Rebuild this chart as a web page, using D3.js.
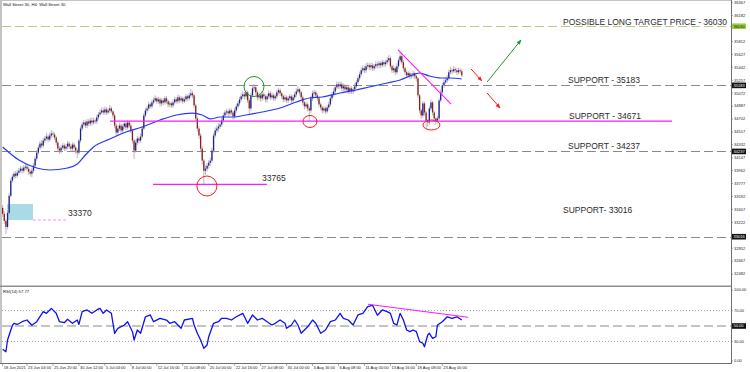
<!DOCTYPE html>
<html><head><meta charset="utf-8">
<script src="https://cdn.jsdelivr.net/npm/d3@7"></script>
<style>html,body{margin:0;padding:0;background:#fff;overflow:hidden}</style>
</head><body><svg id="c" width="750" height="372"></svg>
<script>
// ---------- DATA ----------
const opens=[33429,33343,33242,33156,33357,33602,33818,33875,33918,33889,
33933,33961,33990,33961,34005,34019,33990,33947,33918,33961,
34033,34134,34220,34292,34350,34321,34393,34422,34450,34407,
34465,34493,34479,34436,34364,34278,34249,34292,34321,34278,
34307,34350,34307,34278,34335,34292,34249,34220,34393,34565,
34623,34652,34608,34666,34637,34680,34652,34680,34666,34724,
34767,34795,34824,34795,34839,34795,34824,34853,34810,34752,
34608,34508,34565,34608,34537,34594,34637,34580,34652,34608,
34537,34393,34249,34364,34422,34393,34450,34565,34752,34824,
34853,34910,34882,34939,34968,34997,34954,34982,34925,34968,
34939,34997,34954,34910,34925,34896,34939,34982,34954,35011,
34968,34997,34954,34982,35026,34997,35040,35069,35040,34896,
34709,34565,34465,34278,34105,33961,33990,34033,34076,34105,
34249,34465,34537,34565,34594,34623,34680,34752,34795,34810,
34781,34824,34795,34738,34824,34882,34925,34982,35026,35054,
35026,35083,34968,34853,35040,35141,35155,35083,35011,35040,
34997,35054,35026,34982,35026,35069,35011,35040,34997,35026,
35083,35112,35069,35026,34982,35011,34968,34997,35026,34968,
35011,35054,35097,35126,35083,35011,34939,34882,34910,34853,
34824,34997,35069,35083,35040,34997,34910,34867,34824,34853,
34810,34867,34910,34997,35054,35097,35155,35198,35169,35198,
35141,35169,35126,35155,35097,35141,35097,35126,35169,35227,
35284,35342,35399,35428,35399,35457,35471,35443,35471,35428,
35457,35486,35471,35500,35471,35514,35486,35514,35543,35572,
35457,35399,35428,35371,35457,35543,35601,35514,35428,35371,
35327,35356,35313,35327,35356,35313,35284,35040,34824,34752,
34925,34795,34680,34652,34853,34939,34795,34709,34680,34709,
34968,35083,35184,35227,35256,35284,35371,35399,35385,35414,
35399,35371,35399,35385];
const highs=[33470,33380,33270,33390,33640,33850,33910,33950,33960,33970,
34000,34030,34020,34040,34060,34050,34020,33980,34000,34070,
34170,34260,34330,34390,34400,34430,34460,34500,34480,34510,
34540,34530,34510,34460,34390,34310,34330,34360,34350,34340,
34390,34380,34340,34370,34360,34320,34280,34420,34600,34660,
34690,34680,34700,34700,34720,34720,34720,34710,34760,34800,
34840,34870,34860,34880,34870,34860,34900,34880,34830,34780,
34640,34610,34650,34640,34630,34680,34670,34690,34680,34640,
34560,34420,34400,34460,34450,34490,34600,34790,34860,34890,
34950,34940,34980,35010,35040,35020,35020,35010,35000,35000,
35030,35030,34980,34960,34950,34980,35020,35010,35050,35040,
35030,35020,35020,35060,35050,35080,35130,35100,35060,34920,
34740,34600,34500,34310,34130,34040,34070,34110,34150,34290,
34500,34580,34610,34640,34670,34720,34790,34830,34850,34840,
34860,34850,34820,34860,34920,34960,35020,35070,35100,35090,
35120,35110,35000,35080,35180,35200,35180,35110,35080,35070,
35100,35090,35050,35060,35110,35100,35080,35070,35060,35120,
35150,35140,35090,35050,35050,35040,35030,35060,35050,35050,
35090,35140,35170,35150,35100,35040,34960,34950,34940,34880,
35030,35110,35120,35110,35070,35020,34940,34890,34890,34880,
34900,34950,35040,35090,35140,35190,35240,35230,35240,35230,
35210,35200,35190,35180,35180,35170,35160,35210,35260,35320,
35380,35440,35470,35460,35500,35510,35500,35510,35500,35490,
35530,35520,35540,35530,35550,35540,35550,35590,35620,35600,
35480,35470,35450,35500,35580,35660,35630,35540,35450,35400,
35390,35380,35360,35390,35380,35340,35300,35060,34850,34960,
34950,34820,34700,34890,34980,34960,34820,34730,34750,35000,
35120,35220,35270,35300,35330,35410,35450,35430,35460,35440,
35430,35440,35430,35420];
const lows=[33300,33200,33055,33120,33330,33580,33790,33840,33850,33860,
33900,33930,33920,33930,33970,33950,33900,33880,33870,33930,
34000,34100,34190,34260,34280,34290,34360,34390,34370,34380,
34430,34440,34400,34320,34230,34200,34210,34260,34240,34240,
34270,34270,34230,34240,34250,34200,34140,34190,34360,34530,
34590,34570,34570,34600,34600,34610,34620,34630,34630,34690,
34740,34770,34760,34760,34760,34770,34790,34780,34710,34570,
34460,34470,34530,34490,34500,34560,34540,34550,34570,34500,
34350,34130,34220,34330,34350,34360,34420,34540,34720,34790,
34820,34850,34850,34910,34940,34920,34920,34880,34890,34900,
34910,34920,34870,34870,34860,34860,34910,34920,34920,34930,
34940,34920,34930,34950,34960,34970,35010,35000,34860,34670,
34520,34420,34230,34050,33750,33900,33950,33990,34030,34070,
34220,34430,34500,34520,34560,34590,34650,34720,34760,34740,
34750,34760,34690,34700,34790,34850,34890,34950,34990,34980,
34990,34930,34760,34820,35010,35100,35040,34970,34970,34950,
34960,34980,34940,34940,34990,34970,34980,34960,34960,34990,
35050,35030,34990,34940,34950,34930,34930,34960,34930,34940,
34980,35020,35070,35040,34970,34900,34840,34850,34810,34660,
34790,34960,35040,35000,34960,34870,34830,34780,34790,34770,
34780,34830,34880,34960,35020,35060,35120,35130,35130,35100,
35100,35080,35090,35060,35060,35060,35060,35090,35140,35200,
35250,35310,35370,35360,35360,35420,35400,35400,35390,35390,
35420,35430,35430,35430,35440,35450,35450,35480,35510,35420,
35360,35360,35330,35340,35420,35510,35480,35390,35330,35290,
35290,35270,35280,35290,35270,35240,35000,34780,34700,34720,
34750,34565,34590,34620,34820,34750,34660,34620,34640,34680,
34940,35050,35150,35200,35220,35250,35340,35340,35360,35360,
35330,35340,35350,35300];
const closes=[33343,33242,33156,33357,33602,33818,33875,33918,33889,33933,
33961,33990,33961,34005,34019,33990,33947,33918,33961,34033,
34134,34220,34292,34350,34321,34393,34422,34450,34407,34465,
34493,34479,34436,34364,34278,34249,34292,34321,34278,34307,
34350,34307,34278,34335,34292,34249,34220,34393,34565,34623,
34652,34608,34666,34637,34680,34652,34680,34666,34724,34767,
34795,34824,34795,34839,34795,34824,34853,34810,34752,34608,
34508,34565,34608,34537,34594,34637,34580,34652,34608,34537,
34393,34249,34364,34422,34393,34450,34565,34752,34824,34853,
34910,34882,34939,34968,34997,34954,34982,34925,34968,34939,
34997,34954,34910,34925,34896,34939,34982,34954,35011,34968,
34997,34954,34982,35026,34997,35040,35069,35040,34896,34709,
34565,34465,34278,34105,33961,33990,34033,34076,34105,34249,
34465,34537,34565,34594,34623,34680,34752,34795,34810,34781,
34824,34795,34738,34824,34882,34925,34982,35026,35054,35026,
35083,34968,34853,35040,35141,35155,35083,35011,35040,34997,
35054,35026,34982,35026,35069,35011,35040,34997,35026,35083,
35112,35069,35026,34982,35011,34968,34997,35026,34968,35011,
35054,35097,35126,35083,35011,34939,34882,34910,34853,34824,
34997,35069,35083,35040,34997,34910,34867,34824,34853,34810,
34867,34910,34997,35054,35097,35155,35198,35169,35198,35141,
35169,35126,35155,35097,35141,35097,35126,35169,35227,35284,
35342,35399,35428,35399,35457,35471,35443,35471,35428,35457,
35486,35471,35500,35471,35514,35486,35514,35543,35572,35457,
35399,35428,35371,35457,35543,35601,35514,35428,35371,35327,
35356,35313,35327,35356,35313,35284,35040,34824,34752,34925,
34795,34680,34652,34853,34939,34795,34709,34680,34709,34968,
35083,35184,35227,35256,35284,35371,35399,35385,35414,35399,
35371,35399,35385,35327];

// moving average
const maIdx=[0,10,21,29,40,46,51,56,66,76,86,97,107,117,123,128,134,142,150,160,171,181,189,197,208,218,226,237,245,251,257,263,270,276,283];
const maVal=[34301,34114,34000,33971,34000,34057,34186,34301,34415,34515,34587,34687,34759,34787,34759,34702,34730,34730,34759,34802,34859,34945,35002,35017,35074,35117,35160,35217,35260,35317,35360,35317,35289,35289,35274];

// RSI(14) (read from the subwindow)
const rsiIdx=[0,2,3,6,7,9,12,15,18,21,25,27,30,33,35,38,40,43,46,47,49,52,55,58,60,62,64,67,69,71,75,77,80,81,83,85,88,91,93,97,101,103,106,108,110,112,117,118,120,122,124,126,127,130,133,135,138,141,144,148,151,154,157,160,163,166,168,171,174,175,178,180,182,184,188,191,193,196,199,202,205,208,210,213,216,219,222,225,228,231,234,237,239,241,243,245,247,249,251,253,255,257,259,260,262,263,265,267,268,271,274,277,280,283];
const rsiVal=[19.7,16.5,31.8,51,53.5,52,55.6,57.8,51,55.6,68.7,66.5,73,66.5,55.6,54.3,58.8,53.5,57.8,52,68.7,70.9,66.5,70.9,73,66.5,70.9,66.5,40.5,47,51.3,55.6,42.6,31.8,44.8,40.5,62,64.4,55.6,60,57.8,53.5,55.6,51.3,47,57.8,60,51.3,40.5,31.8,21,25.3,36,53.5,55.6,60,60,57.8,62,66.5,53.5,64.4,57.8,60,55.6,51.3,53.5,57.8,53.5,47,51.3,57.8,51.3,40.5,49,57.8,53.5,40.5,44.8,55.6,57.8,66.5,60,57.8,51.3,64.4,66.5,75.2,77,64,70.9,68.7,66.5,53.5,51.3,66.5,57.8,44.8,42.6,44.8,42.6,29.6,27.5,23,38.3,40.5,34,36,51.3,55.6,62,60,62,57.77];

const priceTicks=[36367,36182,35812,35627,35442,35257,35072,34887,34702,34517,34332,34147,33962,33777,33592,33407,33222,32852,32667,32482];
const levelPrices=[36030,35183,34237,33016];
const levelTexts=["POSSIBLE LONG TARGET PRICE - 36030","SUPPORT - 35183","SUPPORT - 34237","SUPPORT- 33016"];
const supportMagenta=34671, supportMagentaText="SUPPORT - 34671";
const swingLow=33765, swingLowText="33765";
const gapLevel=33255, gapText="33370";
const gapBox=[2.67,18.7,33484,33255];
const xLabelIdx=[0,15,31,47,63,79,95,111,127,143,159,175,191,207,223,239,255,271];
const xLabels=["18 Jun 2021","23 Jun 04:00","25 Jun 20:00","30 Jun 12:00","5 Jul 04:00","8 Jul 00:00","12 Jul 16:00","15 Jul 08:00","20 Jul 00:00","22 Jul 16:00","27 Jul 08:00","30 Jul 00:00","3 Aug 16:00","6 Aug 08:00","11 Aug 00:00","13 Aug 16:00","18 Aug 08:00","23 Aug 00:00"];
const rsiTicks=[100,70,30,0];
const rsiLevel=50, rsiTitle="RSI(14) 57.77", chartTitle="Wall Street 30, H4: Wall Street 30";
const trendPts=[[243.7,35690],[276.4,34916]];
const rsiTrendPts=[[225.2,78.3],[286.9,61.4]];
const arrowRed1=[[288.7,35418],[295.4,35246]];
const arrowGreen=[[298.6,35231],[319.5,35833]];
const arrowRed2=[[298.6,35074],[306.6,34859]];
const circleGreen=[154.9,35167], circleRed1=[125.9,33742], circleRed2=[189.4,34666], circleRed3=[264.3,34616];

// ---------- DRAW ----------
const svg=d3.select("#c");
const FONT="'Liberation Sans', Arial, sans-serif";
const AX=731;
const x=d3.scaleLinear().domain([0,449]).range([2.67,731.1]);
const y=d3.scaleLinear().domain([32482,36367]).range([274,2.7]);
const yr=d3.scaleLinear().domain([0,100]).range([364.4,287.6]);

svg.append("rect").attr("width",750).attr("height",372).attr("fill","#fff");
const defs=svg.append("defs");
defs.append("clipPath").attr("id","mainClip").append("rect").attr("x",2).attr("y",0).attr("width",AX-2).attr("height",286);
defs.append("clipPath").attr("id","rsiClip").append("rect").attr("x",2).attr("y",287.5).attr("width",AX-2).attr("height",76);
function marker(id,color){
  defs.append("marker").attr("id",id).attr("viewBox","0 0 10 10").attr("refX",9).attr("refY",5)
   .attr("markerWidth",5).attr("markerHeight",5).attr("orient","auto-start-reverse")
   .append("path").attr("d","M0,1L10,5L0,9Z").attr("fill",color);
}
marker("mRed","#ff1a1a"); marker("mGreen","#279127");

const main=svg.append("g").attr("clip-path","url(#mainClip)");

// cyan gap box
main.append("rect").attr("x",x(gapBox[0])).attr("y",y(gapBox[2])).attr("width",x(gapBox[1])-x(gapBox[0])).attr("height",y(gapBox[3])-y(gapBox[2])).attr("fill","#a9dbe4");
main.append("line").attr("x1",x(18.7)).attr("x2",x(40.3)).attr("y1",y(gapLevel)).attr("y2",y(gapLevel)).attr("stroke","#ff88ff").attr("stroke-width",1).attr("stroke-dasharray","3,2");

// horizontal levels
levelPrices.forEach((p,k)=>{
  main.append("line").attr("x1",2).attr("x2",AX).attr("y1",Math.round(y(p))+0.5).attr("y2",Math.round(y(p))+0.5)
   .attr("stroke",k===0?"#bcc98a":"#8a8a8a").attr("stroke-width",1).attr("stroke-dasharray","9,4");
});

// candles
const idx=d3.range(closes.length);
main.append("g").selectAll("line").data(idx).join("line")
  .attr("x1",i=>x(i)).attr("x2",i=>x(i)).attr("y1",i=>y(highs[i])).attr("y2",i=>y(lows[i]))
  .attr("stroke","#9c9c9c").attr("stroke-width",0.7);
main.append("g").selectAll("rect").data(idx).join("rect")
  .attr("x",i=>x(i)-0.65).attr("width",1.3)
  .attr("y",i=>y(Math.max(opens[i],closes[i])))
  .attr("height",i=>Math.max(0.8,Math.abs(y(opens[i])-y(closes[i]))))
  .attr("fill",i=>closes[i]>=opens[i]?"#1d1d94":"#8e1c1c");

// moving average
main.append("path").datum(maIdx.map((d,k)=>[d,maVal[k]]))
  .attr("d",d3.line().x(d=>x(d[0])).y(d=>y(d[1])).curve(d3.curveMonotoneX))
  .attr("fill","none").attr("stroke","#2637ff").attr("stroke-width",1.2);

// magenta lines
main.append("line").attr("x1",x(66.2)).attr("x2",x(412.6)).attr("y1",y(supportMagenta)).attr("y2",y(supportMagenta)).attr("stroke","#ff1aff").attr("stroke-width",1.3);
main.append("line").attr("x1",x(92.7)).attr("x2",x(162.9)).attr("y1",y(swingLow)).attr("y2",y(swingLow)).attr("stroke","#ff1aff").attr("stroke-width",1.3);
main.append("line").attr("x1",x(trendPts[0][0])).attr("y1",y(trendPts[0][1])).attr("x2",x(trendPts[1][0])).attr("y2",y(trendPts[1][1])).attr("stroke","#ff1aff").attr("stroke-width",1.1);

// circles
main.append("circle").attr("cx",x(circleGreen[0])).attr("cy",y(circleGreen[1])).attr("r",10).attr("fill","none").attr("stroke","#2b8f2b").attr("stroke-width",1);
main.append("circle").attr("cx",x(circleRed1[0])).attr("cy",y(circleRed1[1])).attr("r",10).attr("fill","none").attr("stroke","#ff1a1a").attr("stroke-width",1);
main.append("ellipse").attr("cx",x(circleRed2[0])).attr("cy",y(circleRed2[1])).attr("rx",7).attr("ry",6).attr("fill","none").attr("stroke","#ff1a1a").attr("stroke-width",1);
main.append("ellipse").attr("cx",x(circleRed3[0])).attr("cy",y(circleRed3[1])).attr("rx",8.5).attr("ry",5).attr("fill","none").attr("stroke","#ff1a1a").attr("stroke-width",1);

// arrows
[[arrowRed1,"#ff1a1a","mRed"],[arrowGreen,"#279127","mGreen"],[arrowRed2,"#ff1a1a","mRed"]].forEach(([a,c,m])=>{
  main.append("line").attr("x1",x(a[0][0])).attr("y1",y(a[0][1])).attr("x2",x(a[1][0])).attr("y2",y(a[1][1]))
   .attr("stroke",c).attr("stroke-width",1).attr("marker-end",`url(#${m})`);
});

// annotation texts
const tfs=8.5;
function ann(t,tx,ty,anchor){svg.append("text").attr("x",tx).attr("y",ty).attr("text-anchor",anchor||"start").attr("font-family",FONT).attr("font-size",tfs).attr("fill","#2a2a2a").text(t);}
ann(levelTexts[0],727,y(levelPrices[0])-1.5,"end");
ann(levelTexts[1],568,y(levelPrices[1])-2.5);
ann(supportMagentaText,569,y(supportMagenta)-2.3);
ann(levelTexts[2],568,y(levelPrices[2])-2.5);
ann(levelTexts[3],563,y(levelPrices[3])-23.5);
ann(swingLowText,262,y(swingLow)-3.6);
ann(gapText,68,y(gapLevel)-4);

// frame
svg.append("rect").attr("x",0).attr("y",0).attr("width",2).attr("height",364).attr("fill","#c4c4c4");
svg.append("line").attr("x1",0).attr("x2",AX).attr("y1",0.5).attr("y2",0.5).attr("stroke","#c4c4c4");
svg.append("rect").attr("x",0).attr("y",285.5).attr("width",AX+1).attr("height",1.5).attr("fill","#8f8f8f");
svg.append("line").attr("x1",AX+0.5).attr("x2",AX+0.5).attr("y1",0).attr("y2",364).attr("stroke","#707070");
svg.append("line").attr("x1",0).attr("x2",AX+1).attr("y1",363.5).attr("y2",363.5).attr("stroke","#707070");

svg.append("text").attr("x",3).attr("y",6).attr("font-family",FONT).attr("font-size",4.2).attr("fill","#111").text(chartTitle);

// price axis
const pa=svg.append("g").attr("font-family",FONT).attr("font-size",4).attr("fill","#222");
priceTicks.forEach(p=>{
  const yy=y(p);
  pa.append("line").attr("x1",AX).attr("x2",AX+2).attr("y1",yy).attr("y2",yy).attr("stroke","#707070").attr("stroke-width",0.6);
  pa.append("text").attr("x",AX+3).attr("y",yy+1.4).text(p);
});
levelPrices.forEach((p,k)=>{
  const yy=y(p);
  pa.append("rect").attr("x",AX+1).attr("y",yy-2.8).attr("width",14).attr("height",5.6).attr("fill",k===0?"#9bcf3c":"#111");
  pa.append("text").attr("x",AX+2.5).attr("y",yy+1.4).attr("fill",k===0?"#111":"#fff").text(p);
});

// RSI panel
const rs=svg.append("g").attr("clip-path","url(#rsiClip)");
[70,30].forEach(v=>rs.append("line").attr("x1",2).attr("x2",AX).attr("y1",yr(v)).attr("y2",yr(v)).attr("stroke","#8a8a8a").attr("stroke-width",0.8).attr("stroke-dasharray","1,2"));
rs.append("line").attr("x1",2).attr("x2",AX).attr("y1",yr(rsiLevel)).attr("y2",yr(rsiLevel)).attr("stroke","#8a8a8a").attr("stroke-width",1).attr("stroke-dasharray","9,4");
rs.append("path").datum(rsiIdx.map((d,k)=>[d,rsiVal[k]]))
  .attr("d",d3.line().x(d=>x(d[0])).y(d=>yr(d[1])))
  .attr("fill","none").attr("stroke","#1010ee").attr("stroke-width",1.3).attr("stroke-linejoin","round");
rs.append("line").attr("x1",x(rsiTrendPts[0][0])).attr("y1",yr(rsiTrendPts[0][1])).attr("x2",x(rsiTrendPts[1][0])).attr("y2",yr(rsiTrendPts[1][1])).attr("stroke","#ff1aff").attr("stroke-width",1.1);
svg.append("text").attr("x",3).attr("y",292.5).attr("font-family",FONT).attr("font-size",4.2).attr("fill","#111").text(rsiTitle);

const ra=svg.append("g").attr("font-family",FONT).attr("font-size",4).attr("fill","#222");
rsiTicks.forEach(v=>{
  const yy=Math.min(361,Math.max(290,yr(v)));
  ra.append("line").attr("x1",AX).attr("x2",AX+2).attr("y1",yy).attr("y2",yy).attr("stroke","#707070").attr("stroke-width",0.6);
  ra.append("text").attr("x",AX+3).attr("y",yy+1.4).text(v.toFixed(2));
});
ra.append("rect").attr("x",AX+1).attr("y",yr(rsiLevel)-2.8).attr("width",14).attr("height",5.6).attr("fill","#111");
ra.append("text").attr("x",AX+2.5).attr("y",yr(rsiLevel)+1.4).attr("fill","#fff").text(rsiLevel.toFixed(2));

// time axis
const ta=svg.append("g").attr("font-family",FONT).attr("font-size",4).attr("fill","#222");
xLabelIdx.forEach((i,k)=>{
  const xx=x(i);
  ta.append("line").attr("x1",xx).attr("x2",xx).attr("y1",363.5).attr("y2",366).attr("stroke","#707070").attr("stroke-width",0.6);
  ta.append("text").attr("x",xx+1).attr("y",369).text(xLabels[k]);
});
</script></body></html>
